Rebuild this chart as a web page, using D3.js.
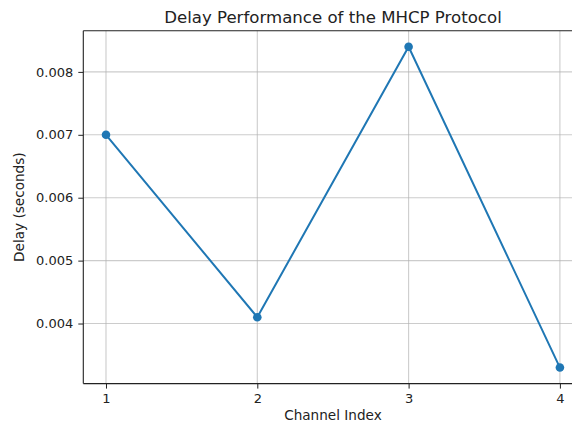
<!DOCTYPE html>
<html>
<head>
<meta charset="utf-8">
<script src="https://cdn.jsdelivr.net/npm/d3@7"></script>
<style>
  body { margin: 0; background: #fff; overflow: hidden; }
  svg { display: block; font-family: "DejaVu Sans", sans-serif; }
</style>
</head>
<body>
<svg id="chart" width="572" height="426"></svg>
<script>
const channels = [1, 2, 3, 4];
const delays = [0.0070, 0.0041, 0.0084, 0.0033];
const xTicks = [1, 2, 3, 4];
const yTicks = [0.004, 0.005, 0.006, 0.007, 0.008];

const svg = d3.select("#chart");
const plotLeft = 83.3, plotRight = 582.6, plotTop = 30.7, plotBottom = 383.6;

// matplotlib-like 5% margins
const xMin = d3.min(channels), xMax = d3.max(channels);
const xPad = (xMax - xMin) * 0.05;
const x = d3.scaleLinear().domain([xMin - xPad, xMax + xPad]).range([plotLeft, plotRight]);

const yMin = d3.min(delays), yMax = d3.max(delays);
const yPad = (yMax - yMin) * 0.05;
const y = d3.scaleLinear().domain([yMin - yPad, yMax + yPad]).range([plotBottom, plotTop]);

// grid
svg.append("g").selectAll("line")
    .data(xTicks)
    .enter()
    .append("line")
    .attr("x1", d => x(d)).attr("x2", d => x(d))
    .attr("y1", plotTop).attr("y2", plotBottom)
    .attr("stroke", "#b0b0b0").attr("stroke-opacity", 0.65).attr("stroke-width", 1.1);

svg.append("g").selectAll("line")
    .data(yTicks)
    .enter()
    .append("line")
    .attr("x1", plotLeft).attr("x2", plotRight)
    .attr("y1", d => y(d)).attr("y2", d => y(d))
    .attr("stroke", "#b0b0b0").attr("stroke-opacity", 0.65).attr("stroke-width", 1.1);

// axes
const xAxis = svg.append("g")
    .attr("transform", `translate(0,${plotBottom})`)
    .call(d3.axisBottom(x).tickValues(xTicks).tickFormat(d3.format("d")).tickSize(5).tickPadding(5));
const yAxis = svg.append("g")
    .attr("transform", `translate(${plotLeft},0)`)
    .call(d3.axisLeft(y).tickValues(yTicks).tickFormat(d3.format(".3f")).tickSize(5).tickPadding(5));

[xAxis, yAxis].forEach(g => {
    g.select(".domain").remove();
    g.selectAll("line").attr("stroke", "#222");
    g.selectAll("text").attr("fill", "#222").style("font-size", "13px").style("font-family", "DejaVu Sans, sans-serif");
});

// spines
const spines = [
    [plotLeft, plotTop, plotLeft, plotBottom],
    [plotLeft, plotBottom, plotRight, plotBottom],
    [plotLeft, plotTop, plotRight, plotTop],
    [plotRight, plotTop, plotRight, plotBottom]
];
svg.append("g").selectAll("line")
    .data(spines)
    .enter()
    .append("line")
    .attr("x1", d => d[0]).attr("y1", d => d[1])
    .attr("x2", d => d[2]).attr("y2", d => d[3])
    .attr("stroke", "#222").attr("stroke-width", 1.1);

// line + markers
const data = channels.map((c, i) => ({ c, v: delays[i] }));
svg.append("path")
    .datum(data)
    .attr("fill", "none")
    .attr("stroke", "#1f77b4")
    .attr("stroke-width", 2)
    .attr("d", d3.line().x(d => x(d.c)).y(d => y(d.v)));

svg.append("g").selectAll("circle")
    .data(data)
    .enter()
    .append("circle")
    .attr("cx", d => x(d.c))
    .attr("cy", d => y(d.v))
    .attr("r", 4.3)
    .attr("fill", "#1f77b4");

// labels
svg.append("text")
    .attr("x", (plotLeft + plotRight) / 2).attr("y", 22.5)
    .attr("text-anchor", "middle")
    .attr("fill", "#222")
    .style("font-size", "16.6px")
    .text("Delay Performance of the MHCP Protocol");

svg.append("text")
    .attr("x", (plotLeft + plotRight) / 2).attr("y", 420)
    .attr("text-anchor", "middle")
    .attr("fill", "#222")
    .style("font-size", "13.6px")
    .text("Channel Index");

svg.append("text")
    .attr("transform", `translate(24,${(plotTop + plotBottom) / 2}) rotate(-90)`)
    .attr("text-anchor", "middle")
    .attr("fill", "#222")
    .style("font-size", "13.6px")
    .text("Delay (seconds)");
</script>
</body>
</html>
